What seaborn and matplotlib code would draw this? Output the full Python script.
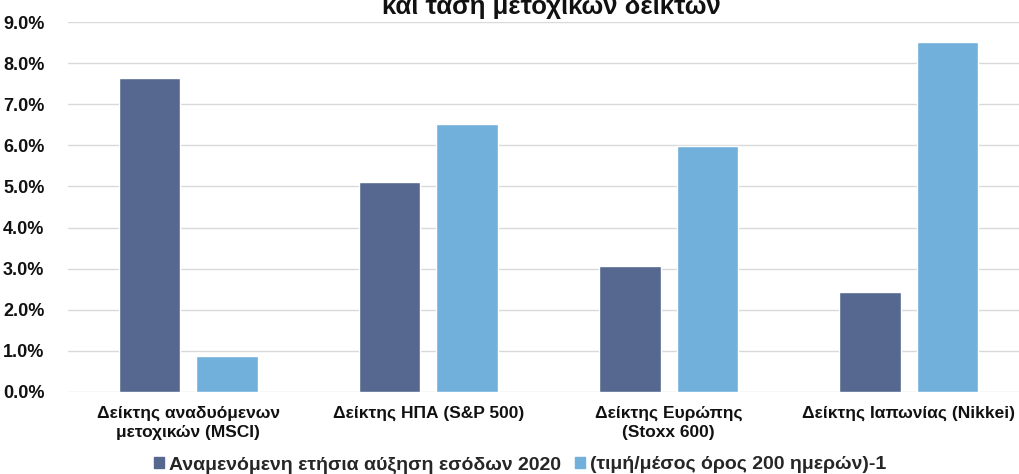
import matplotlib
matplotlib.use("Agg")
import matplotlib.pyplot as plt
import seaborn as sns
import pandas as pd
from matplotlib.ticker import FuncFormatter

categories = ["Δείκτης αναδυόμενων\nμετοχικών (MSCI)", "Δείκτης ΗΠΑ (S&P 500)",
              "Δείκτης Ευρώπης\n(Stoxx 600)", "Δείκτης Ιαπωνίας (Nikkei)"]
series_names = ["Αναμενόμενη ετήσια αύξηση εσόδων 2020", "(τιμή/μέσος όρος 200 ημερών)-1"]
growth = [7.65, 5.11, 3.07, 2.43]
price_ratio = [0.88, 6.52, 5.99, 8.52]
title_line = "και τάση μετοχικών δεικτών"

df = pd.DataFrame({
    "cat": categories * 2,
    "series": [series_names[0]] * 4 + [series_names[1]] * 4,
    "value": growth + price_ratio,
})

sns.set_theme(style="white")
plt.rcParams["font.family"] = ["Liberation Sans", "DejaVu Sans"]

W, H = 1019, 474
fig = plt.figure(figsize=(W / 100, H / 100), dpi=100)
ax = fig.add_axes([68 / W, 1 - 392 / H, 961 / W, 370 / H])

palette = ["#56688F", "#72B0DC"]
sns.barplot(data=df, x="cat", y="value", hue="series", palette=palette,
            width=0.646, gap=0.207, ax=ax, saturation=1, legend=True, zorder=3)

ax.set_ylim(0, 9)
ax.set_yticks(range(0, 10))
ax.yaxis.set_major_formatter(FuncFormatter(lambda v, p: f"{v:.1f}%"))
ax.grid(axis="y", color="#d9d9d9", linewidth=1, zorder=0)
ax.set_axisbelow(True)
for s in ax.spines.values():
    s.set_visible(False)
ax.set_xlabel("")
ax.set_ylabel("")
ax.tick_params(axis="y", length=0, pad=17, labelsize=13)
ax.tick_params(axis="x", length=0, pad=10, labelsize=12.5)
for t in ax.get_yticklabels() + ax.get_xticklabels():
    t.set_fontweight("bold")
    t.set_color("#111111")
for t in ax.get_xticklabels():
    t.set_linespacing(1.35)

ax.legend_.remove()
handles = [plt.Rectangle((0, 0), 1, 1, color=c) for c in palette]
fig.legend(handles, series_names, loc="center", bbox_to_anchor=(520 / W, 1 - 465 / H),
           ncol=2, frameon=False, handlelength=0.55, handleheight=0.55, handletextpad=0.25,
           columnspacing=0.7, prop={"weight": "bold", "size": 14})

fig.text(551 / W, 1 - 14 / H, title_line, ha="center", va="baseline",
         fontsize=18.5, fontweight="bold", color="#111111")

fig.savefig("out.png", dpi=100)
